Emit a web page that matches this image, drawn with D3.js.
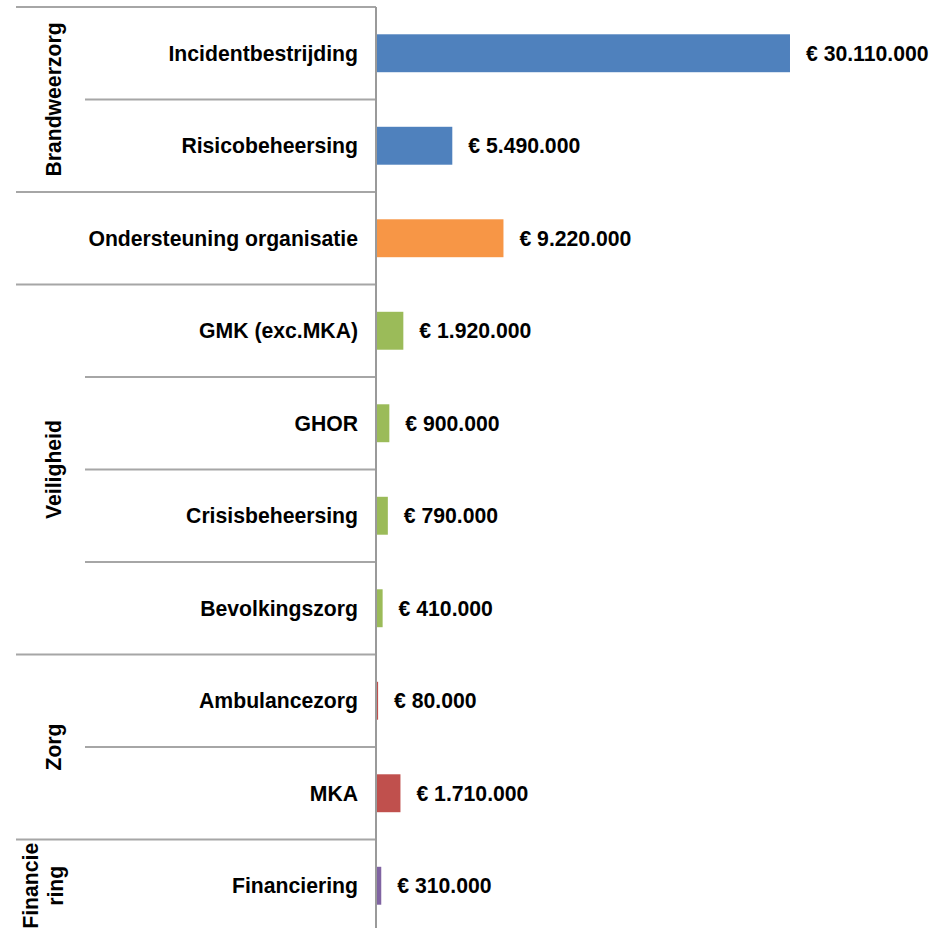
<!DOCTYPE html>
<html>
<head>
<meta charset="utf-8">
<script src="https://cdn.jsdelivr.net/npm/d3@7"></script>
<style>
  html, body { margin: 0; padding: 0; background: #fff; }
  svg { display: block; }
  text { font-family: "Liberation Sans", Arial, sans-serif; font-weight: bold; fill: #000; }
</style>
</head>
<body>
<svg id="chart" width="944" height="928"></svg>
<script>
// ---- data ----
const categories = [
  "Incidentbestrijding", "Risicobeheersing", "Ondersteuning organisatie",
  "GMK (exc.MKA)", "GHOR", "Crisisbeheersing", "Bevolkingszorg",
  "Ambulancezorg", "MKA", "Financiering"
];
const values = [30110000, 5490000, 9220000, 1920000, 900000, 790000, 410000, 80000, 1710000, 310000];
const groups = [
  "Brandweerzorg", "Brandweerzorg", "Organisatie",
  "Veiligheid", "Veiligheid", "Veiligheid", "Veiligheid",
  "Zorg", "Zorg", "Financiering"
];
const series = [
  "Brandweerzorg", "Brandweerzorg", "Organisatie",
  "Veiligheid", "Veiligheid", "Veiligheid", "Veiligheid",
  "Zorg", "Zorg", "Financiering"
];
const groupLabelLines = {
  "Brandweerzorg": ["Brandweerzorg"],
  "Organisatie": [],
  "Veiligheid": ["Veiligheid"],
  "Zorg": ["Zorg"],
  "Financiering": ["Financie", "ring"]
};

// ---- layout ----
const svg = d3.select("#chart");
const axisX = 377;
const plotTop = 7, plotBottom = 932;
const fontSize = "21.2px";

const y = d3.scaleBand()
  .domain(categories)
  .range([plotTop, plotBottom])
  .paddingInner(0.59)
  .paddingOuter(0.295);

const x = d3.scaleLinear()
  .domain([0, 35000000])
  .range([axisX, axisX + 35 * 13.716]);

const color = d3.scaleOrdinal()
  .domain(["Brandweerzorg", "Organisatie", "Veiligheid", "Zorg", "Financiering"])
  .range(["#4F81BD", "#F79646", "#9BBB59", "#C0504D", "#8064A2"]);

const loc = d3.formatLocale({ decimal: ",", thousands: ".", grouping: [3], currency: ["€ ", ""] });
const fmt = loc.format("$,.0f");

const step = y.step();
const rowTop = i => plotTop + i * step;

// divider lines
const lineColor = "#a6a6a6";
const bounds = d3.range(categories.length + 1);
svg.append("g").selectAll("line")
  .data(bounds)
  .join("line")
  .attr("x1", i => (i === 0 || i === categories.length || groups[i] !== groups[i - 1]) ? 16 : 85)
  .attr("x2", axisX - 1)
  .attr("y1", i => rowTop(i))
  .attr("y2", i => rowTop(i))
  .attr("stroke", lineColor)
  .attr("stroke-width", 2);

// bars
svg.append("g").selectAll("rect")
  .data(categories)
  .join("rect")
  .attr("x", x(0))
  .attr("y", d => y(d))
  .attr("width", (d, i) => x(values[i]) - x(0))
  .attr("height", y.bandwidth())
  .attr("fill", (d, i) => color(series[i]));

// axis line
svg.append("line")
  .attr("x1", axisX - 1).attr("x2", axisX - 1)
  .attr("y1", plotTop).attr("y2", plotBottom)
  .attr("stroke", "#9a9a9a")
  .attr("stroke-width", 2);

// category labels
svg.append("g").selectAll("text")
  .data(categories)
  .join("text")
  .attr("x", 358)
  .attr("y", d => y(d) + y.bandwidth() / 2)
  .attr("dy", "0.36em")
  .attr("text-anchor", "end")
  .style("font-size", fontSize)
  .text(d => d);

// value labels
svg.append("g").selectAll("text")
  .data(categories)
  .join("text")
  .attr("x", (d, i) => x(values[i]) + 16)
  .attr("y", d => y(d) + y.bandwidth() / 2)
  .attr("dy", "0.36em")
  .attr("text-anchor", "start")
  .style("font-size", fontSize)
  .text((d, i) => fmt(values[i]));

// group labels
const groupNames = Array.from(new Set(groups));
groupNames.forEach(g => {
  const idx = groups.map((v, i) => v === g ? i : -1).filter(i => i >= 0);
  const cy = (rowTop(idx[0]) + rowTop(idx[idx.length - 1] + 1)) / 2;
  const lines = groupLabelLines[g];
  const n = lines.length;
  lines.forEach((t, j) => {
    const bx = n > 1 ? 38 + j * 25 : 61;
    svg.append("text")
      .attr("transform", `translate(${bx},${cy}) rotate(-90)`)
      .attr("text-anchor", "middle")
      .style("font-size", fontSize)
      .text(t);
  });
});
</script>
</body>
</html>
